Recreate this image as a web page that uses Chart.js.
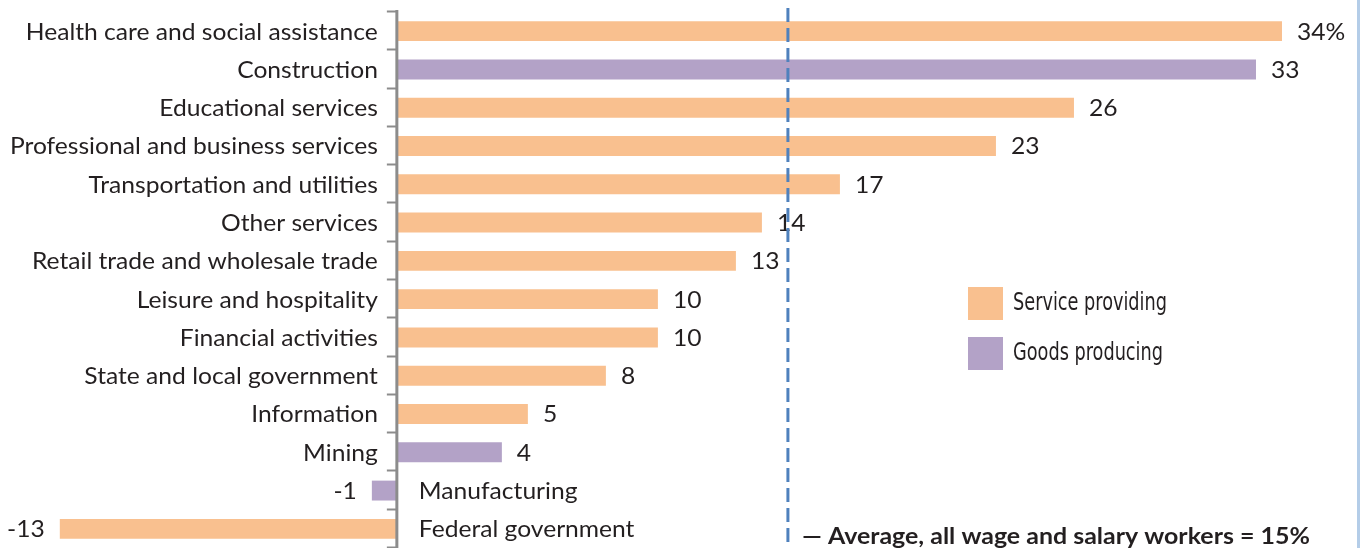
<!DOCTYPE html>
<html>
<head>
<meta charset="utf-8">
<title>Projected employment growth by industry</title>
<style>
  html, body { margin: 0; padding: 0; background: #ffffff; }
  #wrap { position: relative; width: 1360px; height: 548px; }
  canvas { display: block; }
</style>
<script src="https://cdn.jsdelivr.net/npm/chart.js@4/dist/chart.umd.min.js"></script>
</head>
<body>
<div id="wrap"><canvas id="chart" width="1360" height="548"></canvas></div>
<script>
// Industries, top to bottom
const industries = [
  'Health care and social assistance',
  'Construction',
  'Educational services',
  'Professional and business services',
  'Transportation and utilities',
  'Other services',
  'Retail trade and wholesale trade',
  'Leisure and hospitality',
  'Financial activities',
  'State and local government',
  'Information',
  'Mining',
  'Manufacturing',
  'Federal government'
];

// Percent change in employment
const growth = [34, 33, 26, 23, 17, 14, 13, 10, 10, 8, 5, 4, -1, -13];

// Sector of each industry: 'S' = service providing, 'G' = goods producing
const sector = ['S', 'G', 'S', 'S', 'S', 'S', 'S', 'S', 'S', 'S', 'S', 'G', 'G', 'S'];

const seriesNames = ['Service providing', 'Goods producing'];

// Average for all wage and salary workers
const averageGrowth = 15;
const averageLabel = '\u2014 Average, all wage and salary workers = 15%';

const COLORS = { S: '#f9c08f', G: '#b3a2c7' };
const TEXT = '#231f20';
const LABEL_FONT = '23px Lato, "Open Sans", sans-serif';
const LABEL_STRETCH = 1.07;

const serviceValues = growth.map((v, i) => sector[i] === 'S' ? v : null);
const goodsValues = growth.map((v, i) => sector[i] === 'G' ? v : null);

// Draws text with a horizontal scale; either a fixed factor or one that fits a width
function stretchedText(ctx, text, x, y, font, opts) {
  ctx.save();
  ctx.font = font;
  const w = ctx.measureText(text).width;
  let sx = 1;
  if (opts && opts.width) sx = opts.width / w;
  else if (opts && opts.factor) sx = opts.factor;
  const align = ctx.textAlign;
  ctx.textAlign = 'left';
  let left = x;
  if (align === 'right') left = x - w * sx;
  else if (align === 'center') left = x - w * sx / 2;
  ctx.translate(left, y);
  ctx.scale(sx, 1);
  ctx.fillText(text, 0, 0);
  ctx.restore();
}

const annotations = {
  id: 'annotations',
  afterDatasetsDraw(chart) {
    const { ctx, chartArea } = chart;
    const xs = chart.scales.x;
    const ys = chart.scales.y;
    const x0 = xs.getPixelForValue(0);
    const step = ys.getPixelForValue(1) - ys.getPixelForValue(0);

    ctx.save();

    // Category axis with boundary ticks
    ctx.strokeStyle = '#8c8c8c';
    ctx.lineWidth = 3;
    ctx.beginPath();
    ctx.moveTo(x0 - 1, chartArea.top - 2);
    ctx.lineTo(x0 - 1, chartArea.bottom);
    ctx.stroke();
    ctx.lineWidth = 2;
    for (let i = 0; i <= industries.length; i++) {
      const y = Math.round(ys.getPixelForValue(i) - step / 2) - 0.5;
      ctx.beginPath();
      ctx.moveTo(x0 - 11, y);
      ctx.lineTo(x0 - 1, y);
      ctx.stroke();
    }

    // Category names and value labels
    ctx.fillStyle = TEXT;
    ctx.textBaseline = 'middle';
    industries.forEach((name, i) => {
      const y = ys.getPixelForValue(i) + 1;
      const v = growth[i];
      const xe = xs.getPixelForValue(v);
      const txt = i === 0 ? v + '%' : String(v);
      if (v >= 0) {
        ctx.textAlign = 'right';
        stretchedText(ctx, name, x0 - 20, y, LABEL_FONT, { factor: LABEL_STRETCH });
        ctx.textAlign = 'left';
        stretchedText(ctx, txt, xe + 15, y, LABEL_FONT, { factor: LABEL_STRETCH });
      } else {
        ctx.textAlign = 'left';
        stretchedText(ctx, name, x0 + 21, y, LABEL_FONT, { factor: LABEL_STRETCH });
        ctx.textAlign = 'right';
        stretchedText(ctx, txt, xe - 15, y, LABEL_FONT, { factor: LABEL_STRETCH });
      }
    });

    // Average reference line
    const xa = xs.getPixelForValue(averageGrowth);
    ctx.strokeStyle = '#4f81bd';
    ctx.lineWidth = 3;
    ctx.setLineDash([14, 6]);
    ctx.beginPath();
    ctx.moveTo(xa, 8);
    ctx.lineTo(xa, chart.height);
    ctx.stroke();
    ctx.setLineDash([]);

    ctx.fillStyle = TEXT;
    ctx.textAlign = 'left';
    ctx.textBaseline = 'middle';
    stretchedText(ctx, averageLabel, xa + 14, 537, 'bold 22px Lato, "Open Sans", sans-serif', { width: 508 });

    // Legend
    const legendX = 968;
    const legendY = [287, 337];
    ['S', 'G'].forEach((k, j) => {
      ctx.fillStyle = COLORS[k];
      ctx.fillRect(legendX, legendY[j], 35, 33);
      ctx.fillStyle = TEXT;
      ctx.textAlign = 'left';
      ctx.textBaseline = 'middle';
      stretchedText(ctx, seriesNames[j], legendX + 45, legendY[j] + 17,
        '24px "Liberation Sans Narrow", "DejaVu Sans Condensed", sans-serif',
        { width: j === 0 ? 154 : 150 });
    });

    // Frame edge on the right
    ctx.fillStyle = '#b4cde8';
    ctx.fillRect(chart.width - 3, 0, 3, chart.height);

    ctx.restore();
  }
};

new Chart(document.getElementById('chart'), {
  type: 'bar',
  data: {
    labels: industries,
    datasets: [
      { label: seriesNames[0], data: serviceValues, backgroundColor: COLORS.S },
      { label: seriesNames[1], data: goodsValues, backgroundColor: COLORS.G }
    ]
  },
  options: {
    indexAxis: 'y',
    responsive: false,
    animation: false,
    devicePixelRatio: 1,
    layout: { padding: { top: 12, bottom: 0, left: 0, right: 0 } },
    datasets: { bar: { barPercentage: 0.52, categoryPercentage: 1.0, borderWidth: 0 } },
    scales: {
      x: { display: false, min: -15.3, max: 37, stacked: true },
      y: { display: false, stacked: true }
    },
    plugins: { legend: { display: false }, tooltip: { enabled: false } }
  },
  plugins: [annotations]
});
</script>
</body>
</html>
